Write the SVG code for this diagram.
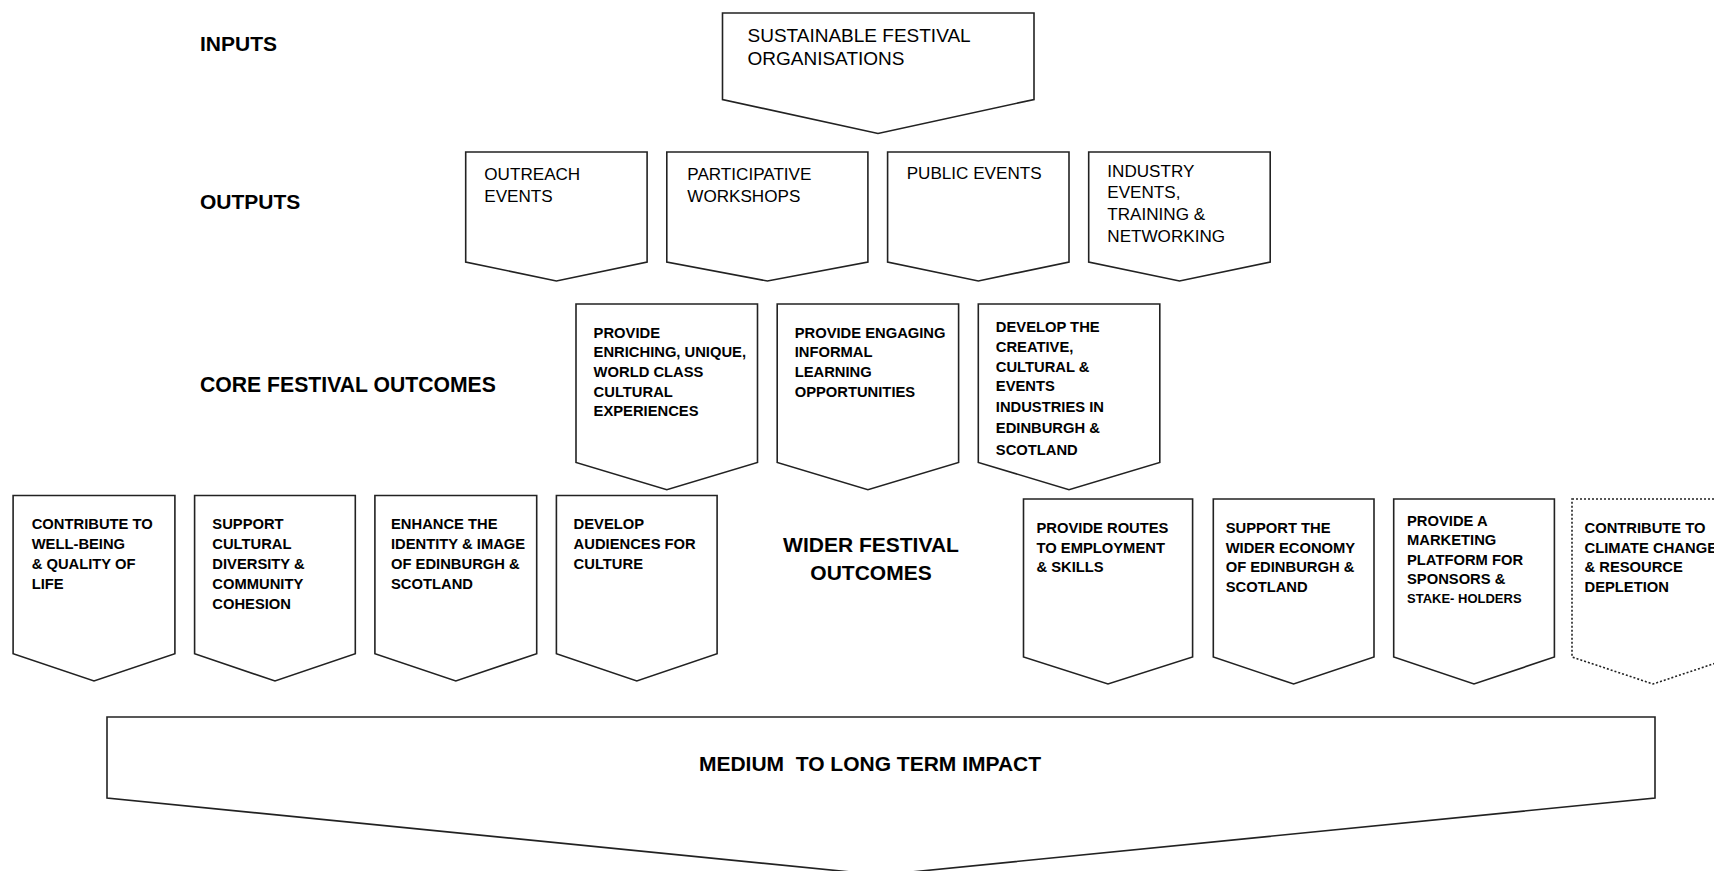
<svg xmlns="http://www.w3.org/2000/svg" width="1714" height="871" viewBox="0 0 1714 871">
<style>
.box{fill:#fff;stroke:#222;stroke-width:1.6;stroke-linejoin:miter}
.dot{fill:#fff;stroke:#222;stroke-width:1.6;stroke-dasharray:2 2}
.reg{font-family:"Liberation Sans",Arial,sans-serif;fill:#000}
.r18{font-size:19px}
.r17{font-size:17.1px}
.b{font-family:"Liberation Sans",Arial,sans-serif;font-weight:bold;font-size:14.75px;fill:#000}
.bs{font-size:13px}
.lab{font-family:"Liberation Sans",Arial,sans-serif;font-weight:bold;font-size:21px;fill:#000}
.lab2{font-size:21.2px}
</style>
<rect width="1714" height="871" fill="#fff"/>

<g id="labels">
<text class="lab" x="200" y="51">INPUTS</text>
<text class="lab" x="200" y="208.5">OUTPUTS</text>
<text class="lab lab2" x="200" y="392">CORE FESTIVAL OUTCOMES</text>
<text class="lab" x="871" y="552" text-anchor="middle">WIDER FESTIVAL</text>
<text class="lab" x="871" y="580" text-anchor="middle">OUTCOMES</text>
</g>

<g id="inputs">
<polygon class="box" points="722.5,13 1034,13 1034,99.5 878,133.5 722.5,99.5"/>
<text class="reg r18"><tspan x="747.5" y="41.5">SUSTAINABLE FESTIVAL</tspan><tspan x="747.5" y="64.5">ORGANISATIONS</tspan></text>
</g>

<g id="out-outreach">
<polygon class="box" points="465.7,152 647.1,152 647.1,262 556.4,281 465.7,262"/>
<text class="reg r17"><tspan x="484.3" y="180">OUTREACH</tspan><tspan x="484.3" y="202">EVENTS</tspan></text>
</g>
<g id="out-workshops">
<polygon class="box" points="666.8,152 867.9,152 867.9,262 767.4,281 666.8,262"/>
<text class="reg r17"><tspan x="687.3" y="180">PARTICIPATIVE</tspan><tspan x="687.3" y="202">WORKSHOPS</tspan></text>
</g>
<g id="out-public">
<polygon class="box" points="887.6,152 1069,152 1069,262 978.3,281 887.6,262"/>
<text class="reg r17"><tspan x="906.7" y="178.5">PUBLIC EVENTS</tspan></text>
</g>
<g id="out-industry">
<polygon class="box" points="1088.7,152 1270.2,152 1270.2,262 1179.5,281 1088.7,262"/>
<text class="reg r17"><tspan x="1107.3" y="176.5">INDUSTRY</tspan><tspan x="1107.3" y="198.4">EVENTS,</tspan><tspan x="1107.3" y="220.2">TRAINING &amp;</tspan><tspan x="1107.3" y="242">NETWORKING</tspan></text>
</g>

<g id="core-experiences">
<polygon class="box" points="576,304 757.5,304 757.5,462.4 666.8,489.7 576,462.4"/>
<text class="b"><tspan x="593.6" y="337.6">PROVIDE</tspan><tspan x="593.6" y="357.3">ENRICHING, UNIQUE,</tspan><tspan x="593.6" y="377">WORLD CLASS</tspan><tspan x="593.6" y="396.6">CULTURAL</tspan><tspan x="593.6" y="416.3">EXPERIENCES</tspan></text>
</g>
<g id="core-learning">
<polygon class="box" points="777.2,304 958.6,304 958.6,462.4 867.9,489.7 777.2,462.4"/>
<text class="b"><tspan x="794.7" y="337.6">PROVIDE ENGAGING</tspan><tspan x="794.7" y="357.3">INFORMAL</tspan><tspan x="794.7" y="377">LEARNING</tspan><tspan x="794.7" y="396.6">OPPORTUNITIES</tspan></text>
</g>
<g id="core-industries">
<polygon class="box" points="978.3,304 1159.8,304 1159.8,462.4 1069,489.7 978.3,462.4"/>
<text class="b"><tspan x="995.8" y="332.1">DEVELOP THE</tspan><tspan x="995.8" y="351.8">CREATIVE,</tspan><tspan x="995.8" y="371.5">CULTURAL &amp;</tspan><tspan x="995.8" y="391.2">EVENTS</tspan><tspan x="995.8" y="411.9">INDUSTRIES IN</tspan><tspan x="995.8" y="432.7">EDINBURGH &amp;</tspan><tspan x="995.8" y="454.6">SCOTLAND</tspan></text>
</g>

<g id="wider-wellbeing">
<polygon class="box" points="13.1,495.5 174.9,495.5 174.9,653.7 94,681 13.1,653.7"/>
<text class="b"><tspan x="31.7" y="529">CONTRIBUTE TO</tspan><tspan x="31.7" y="549">WELL-BEING</tspan><tspan x="31.7" y="569">&amp; QUALITY OF</tspan><tspan x="31.7" y="589">LIFE</tspan></text>
</g>
<g id="wider-diversity">
<polygon class="box" points="194.6,495.5 355.3,495.5 355.3,653.7 275,681 194.6,653.7"/>
<text class="b"><tspan x="212.3" y="529">SUPPORT</tspan><tspan x="212.3" y="549">CULTURAL</tspan><tspan x="212.3" y="569">DIVERSITY &amp;</tspan><tspan x="212.3" y="589">COMMUNITY</tspan><tspan x="212.3" y="609">COHESION</tspan></text>
</g>
<g id="wider-identity">
<polygon class="box" points="374.9,495.5 536.7,495.5 536.7,653.7 455.8,681 374.9,653.7"/>
<text class="b"><tspan x="391" y="529">ENHANCE THE</tspan><tspan x="391" y="549">IDENTITY &amp; IMAGE</tspan><tspan x="391" y="569">OF EDINBURGH &amp;</tspan><tspan x="391" y="589">SCOTLAND</tspan></text>
</g>
<g id="wider-audiences">
<polygon class="box" points="556.4,495.5 717.1,495.5 717.1,653.7 636.8,681 556.4,653.7"/>
<text class="b"><tspan x="573.6" y="529">DEVELOP</tspan><tspan x="573.6" y="549">AUDIENCES FOR</tspan><tspan x="573.6" y="569">CULTURE</tspan></text>
</g>
<g id="wider-employment">
<polygon class="box" points="1023.5,499 1192.6,499 1192.6,657 1108,684 1023.5,657"/>
<text class="b"><tspan x="1036.5" y="533.3">PROVIDE ROUTES</tspan><tspan x="1036.5" y="552.8">TO EMPLOYMENT</tspan><tspan x="1036.5" y="572.3">&amp; SKILLS</tspan></text>
</g>
<g id="wider-economy">
<polygon class="box" points="1213.3,499 1374,499 1374,657 1293.6,684 1213.3,657"/>
<text class="b"><tspan x="1225.7" y="533.3">SUPPORT THE</tspan><tspan x="1225.7" y="552.8">WIDER ECONOMY</tspan><tspan x="1225.7" y="572.3">OF EDINBURGH &amp;</tspan><tspan x="1225.7" y="591.8">SCOTLAND</tspan></text>
</g>
<g id="wider-marketing">
<polygon class="box" points="1393.7,499 1554.4,499 1554.4,657 1474,684 1393.7,657"/>
<text class="b"><tspan x="1407" y="525.7">PROVIDE A</tspan><tspan x="1407" y="545">MARKETING</tspan><tspan x="1407" y="565">PLATFORM FOR</tspan><tspan x="1407" y="584.3">SPONSORS &amp;</tspan><tspan x="1407" y="603.3" class="bs">STAKE- HOLDERS</tspan></text>
</g>
<g id="wider-climate">
<polygon class="dot" points="1572,499 1734,499 1734,657 1653,684 1572,657"/>
<text class="b"><tspan x="1584.5" y="533.3">CONTRIBUTE TO</tspan><tspan x="1584.5" y="552.8">CLIMATE CHANGE</tspan><tspan x="1584.5" y="572.3">&amp; RESOURCE</tspan><tspan x="1584.5" y="591.8">DEPLETION</tspan></text>
</g>

<g id="impact">
<polygon class="box" points="107,717 1655,717 1655,798 881,875 107,798"/>
<text class="lab" x="870" y="770.5" text-anchor="middle" xml:space="preserve">MEDIUM  TO LONG TERM IMPACT</text>
</g>

<g id="connectors"></g>
</svg>
